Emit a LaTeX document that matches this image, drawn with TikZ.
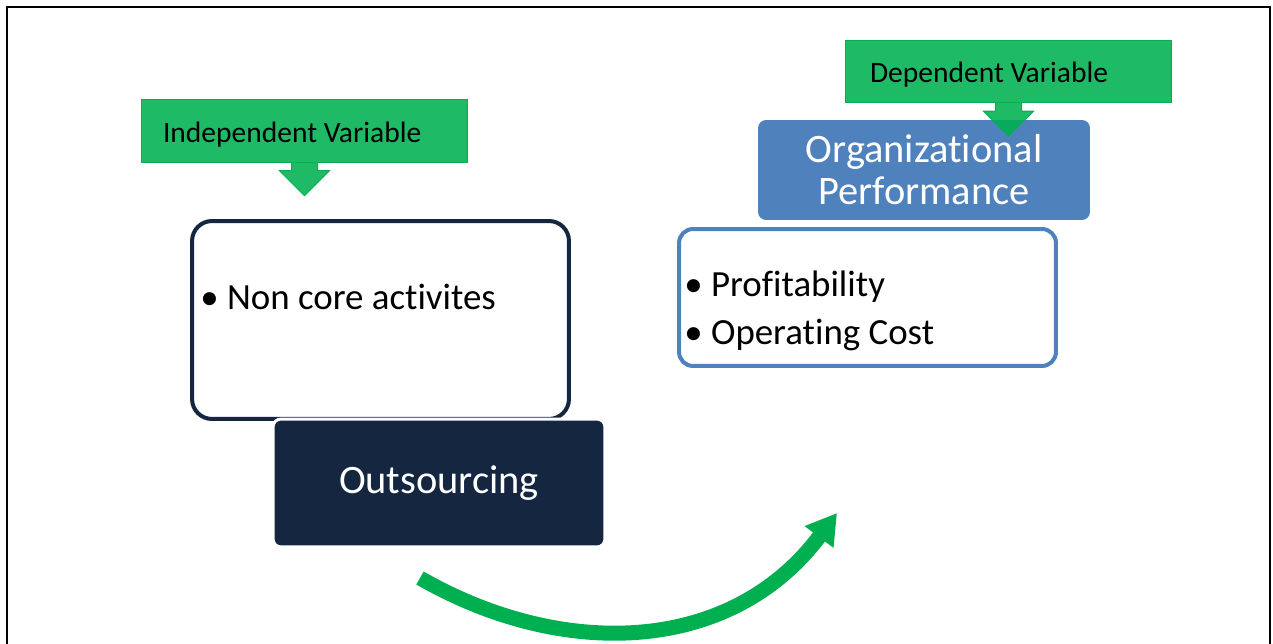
\documentclass[tikz,border=0pt]{standalone}
\usepackage{fontspec}
\setmainfont{Carlito}[Ligatures=NoCommon]
\usepackage{tikz}
\usetikzlibrary{calc}
\usetikzlibrary{arrows.meta}
\definecolor{vargreen}{RGB}{0,176,80}
\definecolor{navy}{RGB}{20,38,64}
\definecolor{accblue}{RGB}{79,129,189}
\tikzset{var box/.style={fill=vargreen, fill opacity=0.88, text opacity=1,
    draw=vargreen, line width=0.02cm, text=black, text height=0.6cm, text depth=0.14cm,
    minimum height=1.25cm, font=\fontsize{16.8}{19}\selectfont},
  var tab/.style={fill=vargreen, fill opacity=0.88, draw=vargreen, line width=0.02cm},
  item box/.style={fill=white, line width=0.08cm, minimum width=7.54cm},
  item text/.style={anchor=west, inner sep=0pt, align=left, text=black},
  head box/.style={rounded corners=0.16cm, minimum width=6.64cm, text=white,
    align=center, font=\fontsize{23}{24}\selectfont},
  flow arrow/.style={draw=vargreen, line width=0.3cm,
    -{Triangle[length=0.6cm, width=0.68cm]}}}
% down pointing tab under a variable box
\newcommand\downtab[1]{%
  \filldraw[var tab] ($(#1.south)+(-13,0)$) -- ($(#1.south)+(-13,8)$)
    -- ($(#1.south)+(-25,8)$) -- ($(#1.south)+(0,33)$)
    -- ($(#1.south)+(25,8)$) -- ($(#1.south)+(13,8)$)
    -- ($(#1.south)+(13,0)$);}
\begin{document}
\begin{tikzpicture}[x=0.02cm, y=-0.02cm]
\useasboundingbox (0,0) rectangle (1273,644);
\draw[line width=0.04cm] (7,644) -- (7,7) -- (1270,7) -- (1270,644);

\node[item box, draw=navy, rounded corners=0.4cm, minimum height=3.96cm] (nc) at (380.5,320) {};
\node[item text, font=\fontsize{21}{24}\selectfont] (ncitem) at (200,297) {\textbullet{} Non core activites};
\node[head box, fill=navy, draw=white, line width=0.06cm, minimum height=2.56cm] (out) at (439,483) {Outsourcing};

\node[item box, draw=accblue, rounded corners=0.28cm, minimum height=2.74cm] (pf) at (867.5,297.5) {};
\node[item text, font=\fontsize{21}{27.2}\selectfont] (pfitems) at (684,311)
  {\textbullet{} Profitability\\\textbullet{} Operating Cost};
\node[head box, fill=accblue, minimum height=2cm] (op) at (924,170) {Organizational\\Performance};

\node[var box, inner xsep=0.44cm, text width=5.66cm] (iv) at (304.5,131)
  {\spaceskip=0pt Independent Variable};
\downtab{iv}
\node[var box, inner xsep=0.5cm, text width=5.54cm] (dv) at (1008.5,71.5)
  {\spaceskip=0pt Dependent Variable};
\downtab{dv}

\coordinate (arcstart) at (420,578);
\coordinate (arcend) at (837,513);
\draw[flow arrow] (arcstart) .. controls (559,658) and (729,657) .. (arcend);
\end{tikzpicture}
\end{document}
